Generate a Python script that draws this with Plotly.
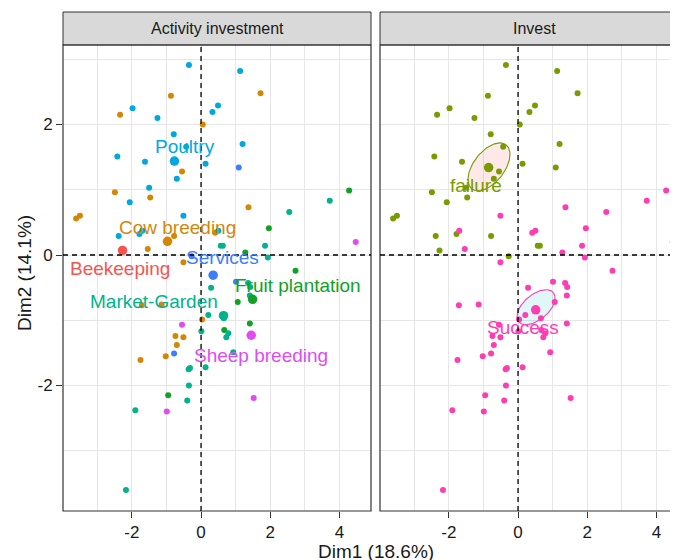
import numpy as np
import plotly.graph_objects as go

# ---------------- data ----------------
dim1 = [-0.35, 1.13, 1.72, -0.87, -2.34, -1.98, -1.26, 0.33, 0.49, 0.05,
        -0.79, 1.20, -0.43, -2.42, -1.62, 0.13, 1.09, -0.55, -0.70, -1.50,
        -2.49, -1.47, -2.06, 4.28, 3.72, 1.37, 2.55, -3.61, -3.50, -0.51,
        1.96, -2.38, -1.78, -1.70, -0.78, 0.41, 0.50, 4.47, 1.85, 0.57,
        0.63, -2.27, -1.54, 1.93, 1.28, -0.27, -0.51, 2.73, 0.29, 1.01,
        1.36, 1.42, 1.41, 1.06, -1.71, -1.14, 0.21, 0.66, 0.03, -0.55,
        0.01, 1.41, 0.67, 0.79, 0.73, -0.74, -0.51, -0.70, -1.02, -0.78,
        -1.75, 0.93, -0.32, -0.36, 0.13, -0.35, -0.95, -0.40, 1.52, -1.90,
        -0.99, -2.17]
dim2 = [2.91, 2.82, 2.48, 2.44, 2.15, 2.25, 2.10, 2.19, 2.29, 2.00,
        1.85, 1.70, 1.66, 1.51, 1.43, 1.40, 1.34, 1.28, 1.17, 1.03,
        0.96, 0.88, 0.81, 0.99, 0.83, 0.73, 0.66, 0.56, 0.60, 0.60,
        0.41, 0.29, 0.32, 0.37, 0.29, 0.34, 0.37, 0.20, 0.14, 0.14,
        0.14, 0.07, 0.09, -0.04, 0.04, -0.02, -0.11, -0.24, -0.50, -0.41,
        -0.43, -0.49, -0.62, -0.72, -0.77, -0.76, -0.92, -0.97, -0.99, -1.07,
        -1.17, -1.05, -1.15, -1.20, -1.26, -1.24, -1.26, -1.38, -1.55, -1.51,
        -1.61, -1.49, -1.73, -1.75, -1.72, -2.00, -2.15, -2.23, -2.19, -2.38,
        -2.40, -3.60]
activity = ["Poultry", "Poultry", "Cow breeding", "Cow breeding", "Cow breeding", "Poultry", "Poultry", "Poultry", "Poultry", "Cow breeding",
            "Poultry", "Poultry", "Poultry", "Poultry", "Poultry", "Poultry", "Services", "Cow breeding", "Poultry", "Poultry",
            "Cow breeding", "Cow breeding", "Poultry", "Fruit plantation", "Market-Garden", "Cow breeding", "Market-Garden", "Cow breeding", "Cow breeding", "Poultry",
            "Fruit plantation", "Poultry", "Poultry", "Poultry", "Cow breeding", "Cow breeding", "Poultry", "Sheep breeding", "Market-Garden", "Market-Garden",
            "Market-Garden", "Beekeeping", "Cow breeding", "Market-Garden", "Fruit plantation", "Services", "Cow breeding", "Fruit plantation", "Market-Garden", "Services",
            "Market-Garden", "Market-Garden", "Market-Garden", "Fruit plantation", "Cow breeding", "Cow breeding", "Market-Garden", "Market-Garden", "Cow breeding", "Sheep breeding",
            "Market-Garden", "Fruit plantation", "Fruit plantation", "Market-Garden", "Market-Garden", "Cow breeding", "Cow breeding", "Cow breeding", "Cow breeding", "Services",
            "Cow breeding", "Market-Garden", "Market-Garden", "Market-Garden", "Market-Garden", "Market-Garden", "Fruit plantation", "Market-Garden", "Sheep breeding", "Market-Garden",
            "Sheep breeding", "Market-Garden"]
invest = ["failure"] * 23 + ["Success", "Success", "Success", "Success", "failure", "failure", "Success",
          "Success", "failure", "failure", "Success", "failure", "Success", "Success", "Success", "Success", "failure",
          "failure", "failure", "Success", "Success", "Success", "failure"] + ["Success"] * 36

activity_groups = ["Beekeeping", "Cow breeding", "Fruit plantation", "Market-Garden",
                   "Poultry", "Services", "Sheep breeding"]
activity_mean_x = [-2.27, -0.97, 1.49, 0.65, -0.77, 0.35, 1.45]
activity_mean_y = [0.07, 0.21, -0.68, -0.93, 1.44, -0.31, -1.23]

invest_groups = ["failure", "Success"]
invest_mean_x = [-0.85, 0.51]
invest_mean_y = [1.34, -0.84]
# confidence ellipses: centre and semi-axis vectors (data units)
ell_cx = [-0.84, 0.52]
ell_cy = [1.35, -0.80]
ell_ax = [0.494, 0.497]
ell_ay = [0.338, 0.225]
ell_bx = [0.352, 0.235]
ell_by = [-0.145, -0.146]

x_tick_labels = ["-2", "0", "2", "4"]
y_tick_labels = ["-2", "0", "2"]

# ---------------- styles ----------------
act_colors = {"Beekeeping": "#F6544F", "Cow breeding": "#D38705", "Fruit plantation": "#12A125",
              "Market-Garden": "#00B38C", "Poultry": "#00A8DF", "Services": "#3D7EFF",
              "Sheep breeding": "#E04CF2"}
inv_colors = {"failure": "#789B00", "Success": "#FF3DB3"}
ell_fill = {"failure": "rgba(248,118,109,0.16)", "Success": "rgba(0,191,196,0.12)"}
act_label_shift = {"Beekeeping": (-3, -18), "Cow breeding": (10, 14), "Fruit plantation": (45, 14),
                   "Market-Garden": (-70, 14), "Poultry": (11, 15), "Services": (9, 18),
                   "Sheep breeding": (10, -20)}
inv_label_shift = {"failure": (-13, -18), "Success": (-13, -18)}

FONT = "Liberation Sans, Arial, sans-serif"
OFF = 8  # page body margin in the browser
W, H = 678 - OFF, 560 - OFF
ML, MR, MT, MB = 63 - OFF, 0, 45 - OFF, 49
plot_w = W - ML - MR
plot_h = H - MT - MB

dim1 = np.array(dim1)
dim2 = np.array(dim2)
activity = np.array(activity)
invest = np.array(invest)

fig = go.Figure()

# ellipses (right panel)
t = np.linspace(0, 2 * np.pi, 120)
for i, g in enumerate(invest_groups):
    ex = ell_cx[i] + ell_ax[i] * np.cos(t) + ell_bx[i] * np.sin(t)
    ey = ell_cy[i] + ell_ay[i] * np.cos(t) + ell_by[i] * np.sin(t)
    fig.add_trace(go.Scatter(x=ex, y=ey, xaxis="x2", yaxis="y2", mode="lines",
                             fill="toself", fillcolor=ell_fill[g],
                             line=dict(color=inv_colors[g], width=1.1),
                             hoverinfo="skip", showlegend=False))

# left panel points
for g in activity_groups:
    m = activity == g
    fig.add_trace(go.Scatter(x=dim1[m], y=dim2[m], mode="markers", xaxis="x", yaxis="y",
                             marker=dict(color=act_colors[g], size=6, line=dict(width=0)),
                             name=g, showlegend=False))
fig.add_trace(go.Scatter(x=activity_mean_x, y=activity_mean_y, mode="markers", xaxis="x", yaxis="y",
                         marker=dict(color=[act_colors[g] for g in activity_groups], size=9.5, line=dict(width=0)),
                         showlegend=False))

# right panel points
for g in invest_groups:
    m = invest == g
    fig.add_trace(go.Scatter(x=dim1[m], y=dim2[m], mode="markers", xaxis="x2", yaxis="y2",
                             marker=dict(color=inv_colors[g], size=6, line=dict(width=0)),
                             name=g, showlegend=False))
fig.add_trace(go.Scatter(x=invest_mean_x, y=invest_mean_y, mode="markers", xaxis="x2", yaxis="y2",
                         marker=dict(color=[inv_colors[g] for g in invest_groups], size=9.5, line=dict(width=0)),
                         showlegend=False))

annotations = []
for i, g in enumerate(activity_groups):
    dx, dy = act_label_shift[g]
    annotations.append(dict(x=activity_mean_x[i], y=activity_mean_y[i], xref="x", yref="y",
                            text=g, showarrow=False, xshift=dx, yshift=dy,
                            font=dict(family=FONT, size=19, color=act_colors[g])))
for i, g in enumerate(invest_groups):
    dx, dy = inv_label_shift[g]
    annotations.append(dict(x=invest_mean_x[i], y=invest_mean_y[i], xref="x2", yref="y2",
                            text=g, showarrow=False, xshift=dx, yshift=dy,
                            font=dict(family=FONT, size=19, color=inv_colors[g])))


# page-pixel layout helpers (page x -> paper x, page y -> paper y)
def px(xp):
    return (xp - 63) / plot_w


def py(yp):
    return (511 - yp) / plot_h


left_dom = [0, px(371)]
right_dom = [px(380), 1]
right_full = px(380 + 308)  # uncropped right edge of the right panel

# strip titles
annotations.append(dict(x=(left_dom[0] + left_dom[1]) / 2, y=py(28), xref="paper", yref="paper",
                        text="Activity investment", showarrow=False,
                        font=dict(family=FONT, size=16, color="#1a1a1a"),
                        xanchor="center", yanchor="middle"))
annotations.append(dict(x=(right_dom[0] + right_full) / 2, y=py(28), xref="paper", yref="paper",
                        text="Invest", showarrow=False,
                        font=dict(family=FONT, size=16, color="#1a1a1a"),
                        xanchor="center", yanchor="middle"))
# axis titles
annotations.append(dict(x=px(375.6), y=py(551), xref="paper", yref="paper",
                        text="Dim1 (18.6%)", showarrow=False, xanchor="center", yanchor="middle",
                        font=dict(family=FONT, size=19, color="#1a1a1a")))
annotations.append(dict(x=px(24), y=py(273), xref="paper", yref="paper",
                        text="Dim2 (14.1%)", showarrow=False, xanchor="center", yanchor="middle",
                        textangle=-90, font=dict(family=FONT, size=19, color="#1a1a1a")))

shapes = []
for (x0, x1) in ((left_dom[0], left_dom[1]), (right_dom[0], right_full)):
    # strip
    shapes.append(dict(type="rect", xref="paper", yref="paper", x0=x0, x1=x1,
                       y0=1, y1=py(12), fillcolor="#D9D9D9",
                       line=dict(color="#333333", width=1), layer="above"))
    # panel border
    shapes.append(dict(type="rect", xref="paper", yref="paper", x0=x0, x1=x1,
                       y0=0, y1=1, line=dict(color="#333333", width=1.2), layer="above"))

dash_line = dict(color="black", width=1.3, dash="5px,4px")
for xr in ("x", "x2"):
    shapes.append(dict(type="line", xref=xr, yref="paper", x0=0, x1=0, y0=0, y1=1,
                       line=dash_line, layer="above"))
shapes.append(dict(type="line", xref="paper", yref="y", x0=left_dom[0], x1=left_dom[1], y0=0, y1=0,
                   line=dash_line, layer="above"))
shapes.append(dict(type="line", xref="paper", yref="y", x0=right_dom[0], x1=1, y0=0, y1=0,
                   line=dash_line, layer="above"))

ppu_x = 34.6
x_lo = -3.99
x_hi_left = x_lo + (371 - 63) / ppu_x
x_hi_right = x_lo + (678 - 380) / ppu_x
y_lo, y_hi = -3.923, 3.218

grid = "#E6E6E6"


def xaxis_def(dom, rng, anchor):
    return dict(domain=dom, range=rng, anchor=anchor, autorange=False,
                tickmode="array", tickvals=[-2, 0, 2, 4], ticktext=x_tick_labels,
                ticks="outside", ticklen=6, tickwidth=1, tickcolor="#333333",
                showgrid=True, gridcolor=grid, gridwidth=1,
                minor=dict(tickvals=[-3, -1, 1, 3], showgrid=True, gridcolor=grid, gridwidth=1, ticks=""),
                zeroline=False, showline=False,
                tickfont=dict(family=FONT, size=17, color="#1a1a1a"), fixedrange=True)


fig.update_layout(
    width=W, height=H,
    margin=dict(l=ML, r=MR, t=MT, b=MB, pad=0),
    paper_bgcolor="white", plot_bgcolor="white",
    showlegend=False,
    xaxis=xaxis_def(left_dom, [x_lo, x_hi_left], "y"),
    xaxis2=xaxis_def(right_dom, [x_lo, x_hi_right], "y2"),
    yaxis=dict(domain=[0, 1], range=[y_lo, y_hi], anchor="x", autorange=False,
               tickmode="array", tickvals=[-2, 0, 2], ticktext=y_tick_labels,
               ticks="outside", ticklen=6, tickwidth=1, tickcolor="#333333",
               showgrid=True, gridcolor=grid, gridwidth=1,
               minor=dict(tickvals=[-3, -1, 1, 3], showgrid=True, gridcolor=grid, gridwidth=1, ticks=""),
               zeroline=False, showline=False,
               tickfont=dict(family=FONT, size=17, color="#1a1a1a"), fixedrange=True),
    yaxis2=dict(domain=[0, 1], range=[y_lo, y_hi], anchor="x2", autorange=False,
                tickmode="array", tickvals=[-2, 0, 2], showticklabels=False, ticks="",
                showgrid=True, gridcolor=grid, gridwidth=1,
                minor=dict(tickvals=[-3, -1, 1, 3], showgrid=True, gridcolor=grid, gridwidth=1, ticks=""),
                zeroline=False, showline=False, fixedrange=True),
    shapes=shapes,
    annotations=annotations,
)

fig.write_html("out.html", config={"displayModeBar": False})
